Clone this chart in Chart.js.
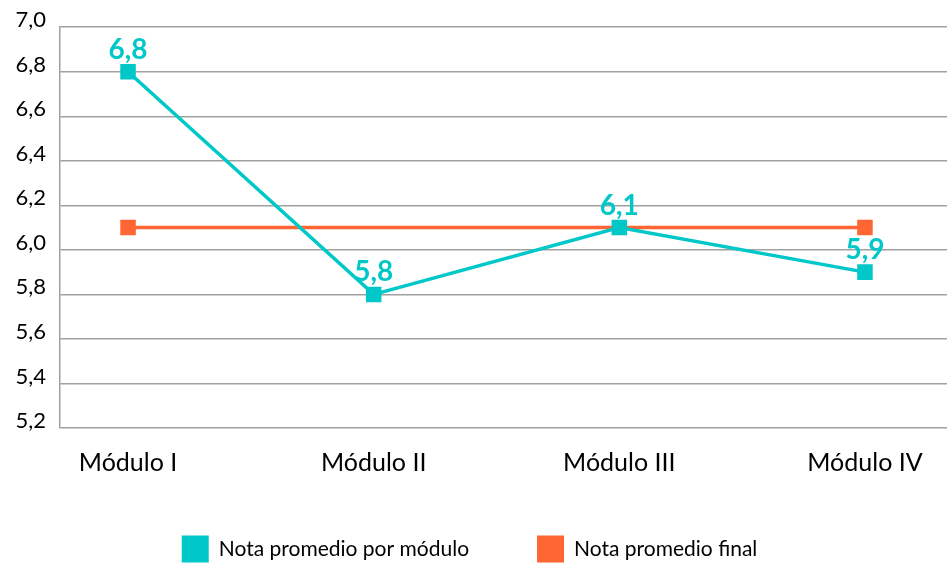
<!DOCTYPE html>
<html>
<head>
<meta charset="utf-8">
<script src="https://cdn.jsdelivr.net/npm/chart.js@4/dist/chart.umd.min.js"></script>
<style>
  html, body { margin: 0; padding: 0; background: #fff; }
  #wrap { width: 947px; height: 563px; }
</style>
</head>
<body>
<div id="wrap"><canvas id="grafico"></canvas></div>
<script>
// Dati
const modulos = ['Módulo I', 'Módulo II', 'Módulo III', 'Módulo IV'];
const notaModulo = [6.8, 5.8, 6.1, 5.9];
const notaFinal = [6.1, 6.1, 6.1, 6.1];
const yTicks = [5.2, 5.4, 5.6, 5.8, 6.0, 6.2, 6.4, 6.6, 6.8, 7.0];

const TEAL = '#00C8C8';
const NARANJA = '#FF6633';
const FONT = 'Lato, "Noto Sans", sans-serif';

const fmt = v => v.toFixed(1).replace('.', ',');

// Etichette dei valori sopra i punti della serie per modulo
const etiquetas = {
  id: 'etiquetas',
  afterDatasetsDraw(chart) {
    const ctx = chart.ctx;
    const meta = chart.getDatasetMeta(0);
    ctx.save();
    ctx.fillStyle = TEAL;
    ctx.font = 'bold 28px ' + FONT;
    ctx.textAlign = 'center';
    ctx.textBaseline = 'middle';
    meta.data.forEach((pt, i) => {
      ctx.fillText(fmt(notaModulo[i]), pt.x, pt.y - 22);
    });
    ctx.restore();
  }
};

// Legenda disegnata a mano in basso, centrata
const leyenda = {
  id: 'leyenda',
  afterDraw(chart) {
    const ctx = chart.ctx;
    const box = 27, gapTexto = 10, gapItem = 68;
    const yc = 549;
    ctx.save();
    ctx.font = '21px ' + FONT;
    ctx.textBaseline = 'middle';
    const items = chart.data.datasets.map(ds => ({
      text: ds.label, color: ds.borderColor, w: ctx.measureText(ds.label).width
    }));
    let total = 0;
    items.forEach((it, i) => {
      total += box + gapTexto + it.w + (i > 0 ? gapItem : 0);
    });
    let x = chart.width / 2 - total / 2 - 4;
    items.forEach(it => {
      ctx.fillStyle = it.color;
      ctx.fillRect(x, yc - box / 2, box, box);
      ctx.fillStyle = '#000';
      ctx.fillText(it.text, x + box + gapTexto, yc);
      x += box + gapTexto + it.w + gapItem;
    });
    ctx.restore();
  }
};

new Chart(document.getElementById('grafico'), {
  type: 'line',
  data: {
    datasets: [
      {
        label: 'Nota promedio por módulo',
        data: notaModulo.map((v, i) => ({ x: i + 1, y: v })),
        borderColor: TEAL,
        backgroundColor: TEAL,
        borderWidth: 3.5,
        pointStyle: 'rect',
        pointRadius: 8.5,
        pointHoverRadius: 8.5,
        tension: 0
      },
      {
        label: 'Nota promedio final',
        data: notaFinal.map((v, i) => ({ x: i + 1, y: v })),
        borderColor: NARANJA,
        backgroundColor: NARANJA,
        borderWidth: 3.5,
        pointStyle: 'rect',
        pointRadius: [8.5, 0, 0, 8.5],
        pointHoverRadius: 8.5,
        tension: 0
      }
    ]
  },
  options: {
    responsive: true,
    maintainAspectRatio: false,
    animation: false,
    layout: { autoPadding: false, padding: { top: 19, right: 0, left: 0, bottom: 87 } },
    plugins: {
      tooltip: { enabled: false },
      legend: { display: false }
    },
    scales: {
      x: {
        type: 'linear',
        min: 0.723,
        max: 4.334,
        afterBuildTicks(scale) {
          scale.ticks = modulos.map((m, i) => ({ value: i + 1 }));
        },
        afterFit(scale) {
          scale.paddingLeft = 0;
          scale.paddingRight = 0;
          scale.height = 48;
        },
        ticks: {
          color: '#000',
          font: { family: FONT, size: 25 },
          padding: 12,
          callback: (v) => modulos[v - 1] || ''
        },
        grid: { display: false },
        border: { display: false }
      },
      y: {
        min: 5.2,
        max: 7.0,
        afterBuildTicks(scale) {
          scale.ticks = yTicks.map(v => ({ value: v }));
        },
        afterFit(scale) { scale.width = 60; },
        ticks: {
          color: '#000',
          font: { family: FONT, size: 22 },
          padding: 14,
          labelOffset: -7,
          callback: (v) => fmt(v)
        },
        grid: { color: '#A0A0A0', lineWidth: 1.5, drawTicks: false },
        border: { display: true, color: '#A0A0A0', width: 1.5 }
      }
    }
  },
  plugins: [etiquetas, leyenda]
});
</script>
</body>
</html>
